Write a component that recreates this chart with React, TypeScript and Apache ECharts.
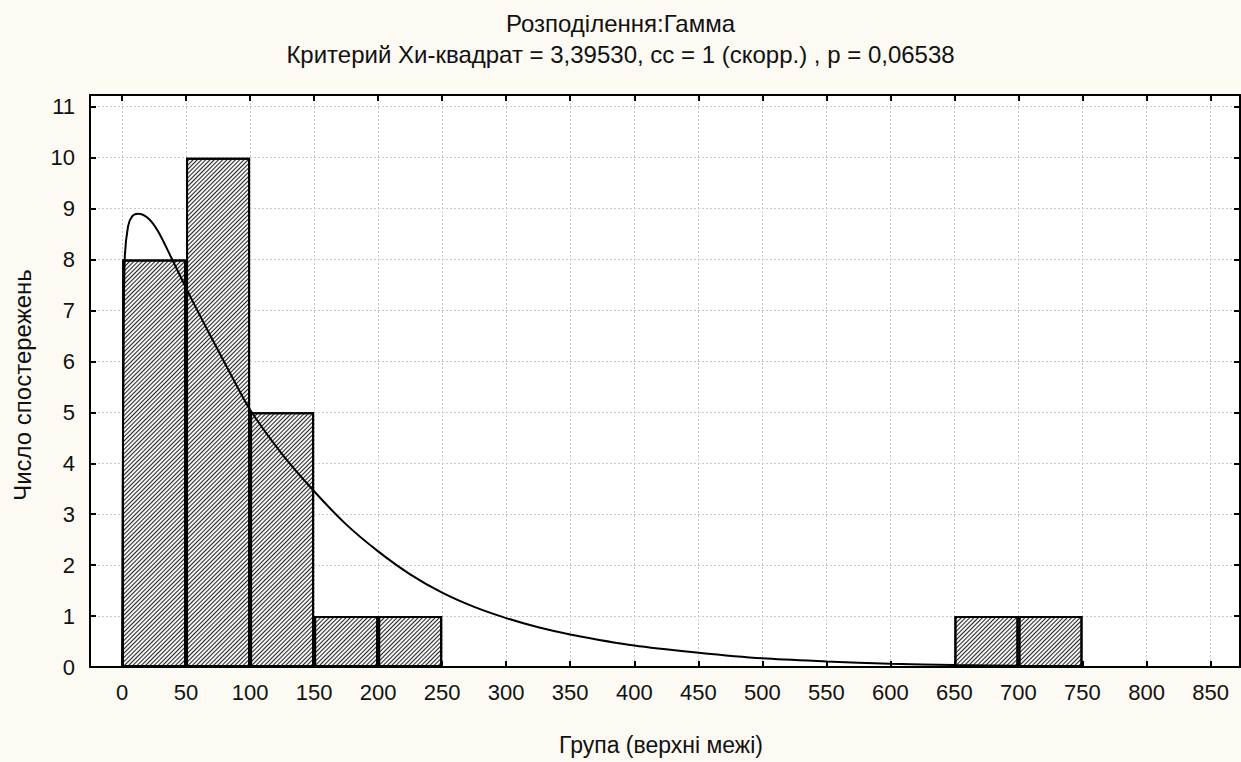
import React, { useEffect, useRef } from "react";
import * as echarts from "echarts";

// ---- data ----
const titleLine1 = "Розподілення:Гамма";
const titleLine2 = "Критерий Хи-квадрат = 3,39530, сс = 1 (скорр.) , p = 0,06538";
const xAxisTitle = "Група (верхні межі)";
const yAxisTitle = "Число спостережень";

const binStarts = [0, 50, 100, 150, 200, 650, 700];
const binCounts = [8, 10, 5, 1, 1, 1, 1];
const binWidth = 50;

const curveX = [0, 0.5, 1.2, 2.1, 4.7, 8, 12.5, 20, 28, 38.6, 50, 62.5, 75, 87.5, 100, 125, 150, 175, 200, 225, 250, 275, 300, 325, 350, 400, 450, 500, 550, 600, 650, 700, 750];
const curveY = [0, 3.3, 6.0, 8.0, 8.65, 8.85, 8.9, 8.82, 8.56, 8.03, 7.44, 6.82, 6.22, 5.62, 5.05, 4.18, 3.45, 2.8, 2.27, 1.82, 1.46, 1.18, 0.96, 0.78, 0.64, 0.42, 0.28, 0.17, 0.11, 0.065, 0.04, 0.025, 0.015];

const xTicks = [0, 50, 100, 150, 200, 250, 300, 350, 400, 450, 500, 550, 600, 650, 700, 750, 800, 850];
const yTicks = [0, 1, 2, 3, 4, 5, 6, 7, 8, 9, 10, 11];

const X_MIN = -25;
const X_MAX = 873;
const Y_MIN = 0;
const Y_MAX = 11.23;

const GRID_LEFT = 90;
const GRID_TOP = 95;
const GRID_W = 1150;
const GRID_H = 572;

const FONT = "'Liberation Sans', Arial, sans-serif";

export default function App() {
  const ref = useRef<HTMLDivElement>(null);

  useEffect(() => {
    if (!ref.current) return;
    const chart = echarts.init(ref.current, undefined, { renderer: "svg" });

    const barData = binStarts.map((s, i) => [s + binWidth / 2, binCounts[i]]);
    const lineData = curveX.map((x, i) => [x, curveY[i]]);
    const barPx = (binWidth * GRID_W) / (X_MAX - X_MIN);

    const splitLine = {
      show: true,
      lineStyle: { color: "#c8c8c8", width: 1, type: [2, 2] as any },
    };

    chart.setOption({
      animation: false,
      backgroundColor: "#fcfaf2",
      textStyle: { fontFamily: FONT },
      title: [
        {
          text: titleLine1,
          left: "center",
          top: 6,
          textStyle: { fontFamily: FONT, fontSize: 24, fontWeight: "normal", color: "#111" },
        },
        {
          text: titleLine2,
          left: "center",
          top: 37,
          textStyle: { fontFamily: FONT, fontSize: 24, fontWeight: "normal", color: "#111" },
        },
      ],
      grid: {
        left: GRID_LEFT,
        top: GRID_TOP,
        width: GRID_W,
        height: GRID_H,
        show: true,
        backgroundColor: "#ffffff",
        borderWidth: 0,
      },
      graphic: [
        {
          type: "text",
          x: 22,
          y: GRID_TOP + GRID_H / 2 + 4,
          rotation: Math.PI / 2,
          style: {
            text: yAxisTitle,
            fontFamily: FONT,
            fontSize: 24,
            fill: "#111",
            align: "center",
            verticalAlign: "middle",
          },
        },
        {
          type: "text",
          x: GRID_LEFT + GRID_W / 2 - 4,
          y: 745,
          style: {
            text: xAxisTitle,
            fontFamily: FONT,
            fontSize: 23,
            fill: "#111",
            align: "center",
            verticalAlign: "middle",
          },
        },
      ],
      xAxis: [
        {
          type: "value",
          position: "bottom",
          min: X_MIN,
          max: X_MAX,
          axisLine: { show: true, onZero: false, lineStyle: { color: "#000", width: 2 } },
          axisTick: { show: true, inside: true, length: 6, customValues: xTicks, lineStyle: { color: "#000", width: 2 } },
          axisLabel: { show: true, customValues: xTicks, margin: 14, fontSize: 22, color: "#111", fontFamily: FONT },
          splitLine,
        },
        {
          type: "value",
          position: "top",
          min: X_MIN,
          max: X_MAX,
          axisLine: { show: true, onZero: false, lineStyle: { color: "#000", width: 2 } },
          axisTick: { show: true, inside: true, length: 6, customValues: xTicks, lineStyle: { color: "#000", width: 2 } },
          axisLabel: { show: false },
          splitLine: { show: false },
        },
      ],
      yAxis: [
        {
          type: "value",
          position: "left",
          min: Y_MIN,
          max: Y_MAX,
          axisLine: { show: true, onZero: false, lineStyle: { color: "#000", width: 2 } },
          axisTick: { show: true, inside: true, length: 6, customValues: yTicks, lineStyle: { color: "#000", width: 2 } },
          axisLabel: { show: true, customValues: yTicks, margin: 15, fontSize: 22, color: "#111", fontFamily: FONT },
          splitLine,
        },
        {
          type: "value",
          position: "right",
          min: Y_MIN,
          max: Y_MAX,
          axisLine: { show: true, onZero: false, lineStyle: { color: "#000", width: 2 } },
          axisTick: { show: true, inside: true, length: 6, customValues: yTicks, lineStyle: { color: "#000", width: 2 } },
          axisLabel: { show: false },
          splitLine: { show: false },
        },
      ],
      series: [
        {
          type: "bar",
          xAxisIndex: 0,
          yAxisIndex: 0,
          data: barData,
          barWidth: barPx,
          itemStyle: {
            color: "#f4f4f4",
            borderColor: "#000",
            borderWidth: 2,
            decal: {
              symbol: "rect",
              symbolSize: 1,
              color: "rgba(0,0,0,0.85)",
              dashArrayX: [1, 0],
              dashArrayY: [1, 2],
              rotation: -Math.PI / 4,
            },
          },
          z: 2,
        },
        {
          type: "line",
          xAxisIndex: 0,
          yAxisIndex: 0,
          data: lineData,
          smooth: 0.3,
          showSymbol: false,
          symbol: "none",
          lineStyle: { color: "#000", width: 2 },
          z: 5,
        },
      ],
    });

    return () => chart.dispose();
  }, []);

  return (
    <div
      ref={ref}
      style={{ position: "fixed", left: 0, top: 0, width: 1241, height: 762 }}
    />
  );
}
